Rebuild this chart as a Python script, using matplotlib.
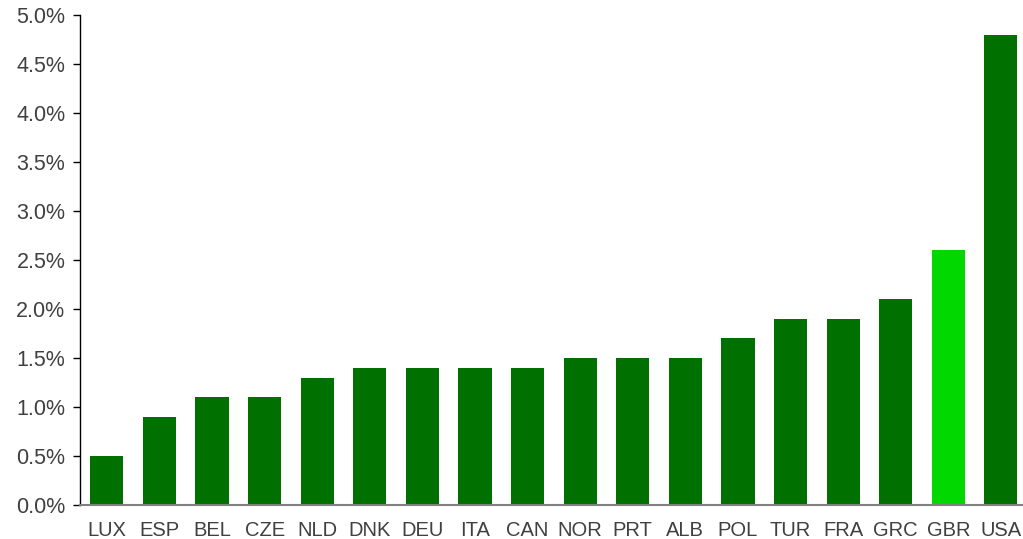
import matplotlib
matplotlib.use("Agg")
import matplotlib.pyplot as plt
from matplotlib.ticker import FuncFormatter, MultipleLocator

countries = ["LUX", "ESP", "BEL", "CZE", "NLD", "DNK", "DEU", "ITA", "CAN",
             "NOR", "PRT", "ALB", "POL", "TUR", "FRA", "GRC", "GBR", "USA"]
values = [0.5, 0.9, 1.1, 1.1, 1.3, 1.4, 1.4, 1.4, 1.4,
          1.5, 1.5, 1.5, 1.7, 1.9, 1.9, 2.1, 2.6, 4.8]
highlight = "GBR"

plt.rcParams['font.family'] = ['Liberation Sans', 'DejaVu Sans']

fig = plt.figure(figsize=(10.23, 5.39), dpi=100)
ax = fig.add_axes([80/1023, 34/539, 943/1023, 490/539])

colors = ["#00D800" if c == highlight else "#007000" for c in countries]
x = range(len(countries))
ax.bar(x, values, width=0.63, color=colors)

ax.set_xlim(-0.51, 17.42)
ax.set_ylim(0, 5.0)
ax.yaxis.set_major_locator(MultipleLocator(0.5))
ax.yaxis.set_major_formatter(FuncFormatter(lambda v, p: f"{v:.1f}%"))
ax.set_xticks(list(x))
ax.set_xticklabels(countries)

for s in ["top", "right"]:
    ax.spines[s].set_visible(False)
ax.spines["bottom"].set_color("#808080")
ax.spines["bottom"].set_linewidth(1.5)
ax.spines["left"].set_color("black")
ax.spines["left"].set_linewidth(1.0)

ax.tick_params(axis="x", length=0, pad=11.5, labelsize=14.5, labelcolor="#404040")
ax.tick_params(axis="y", length=5, width=1, pad=5.5, labelsize=15.5, labelcolor="#404040")

fig.savefig("out.png", dpi=100)
